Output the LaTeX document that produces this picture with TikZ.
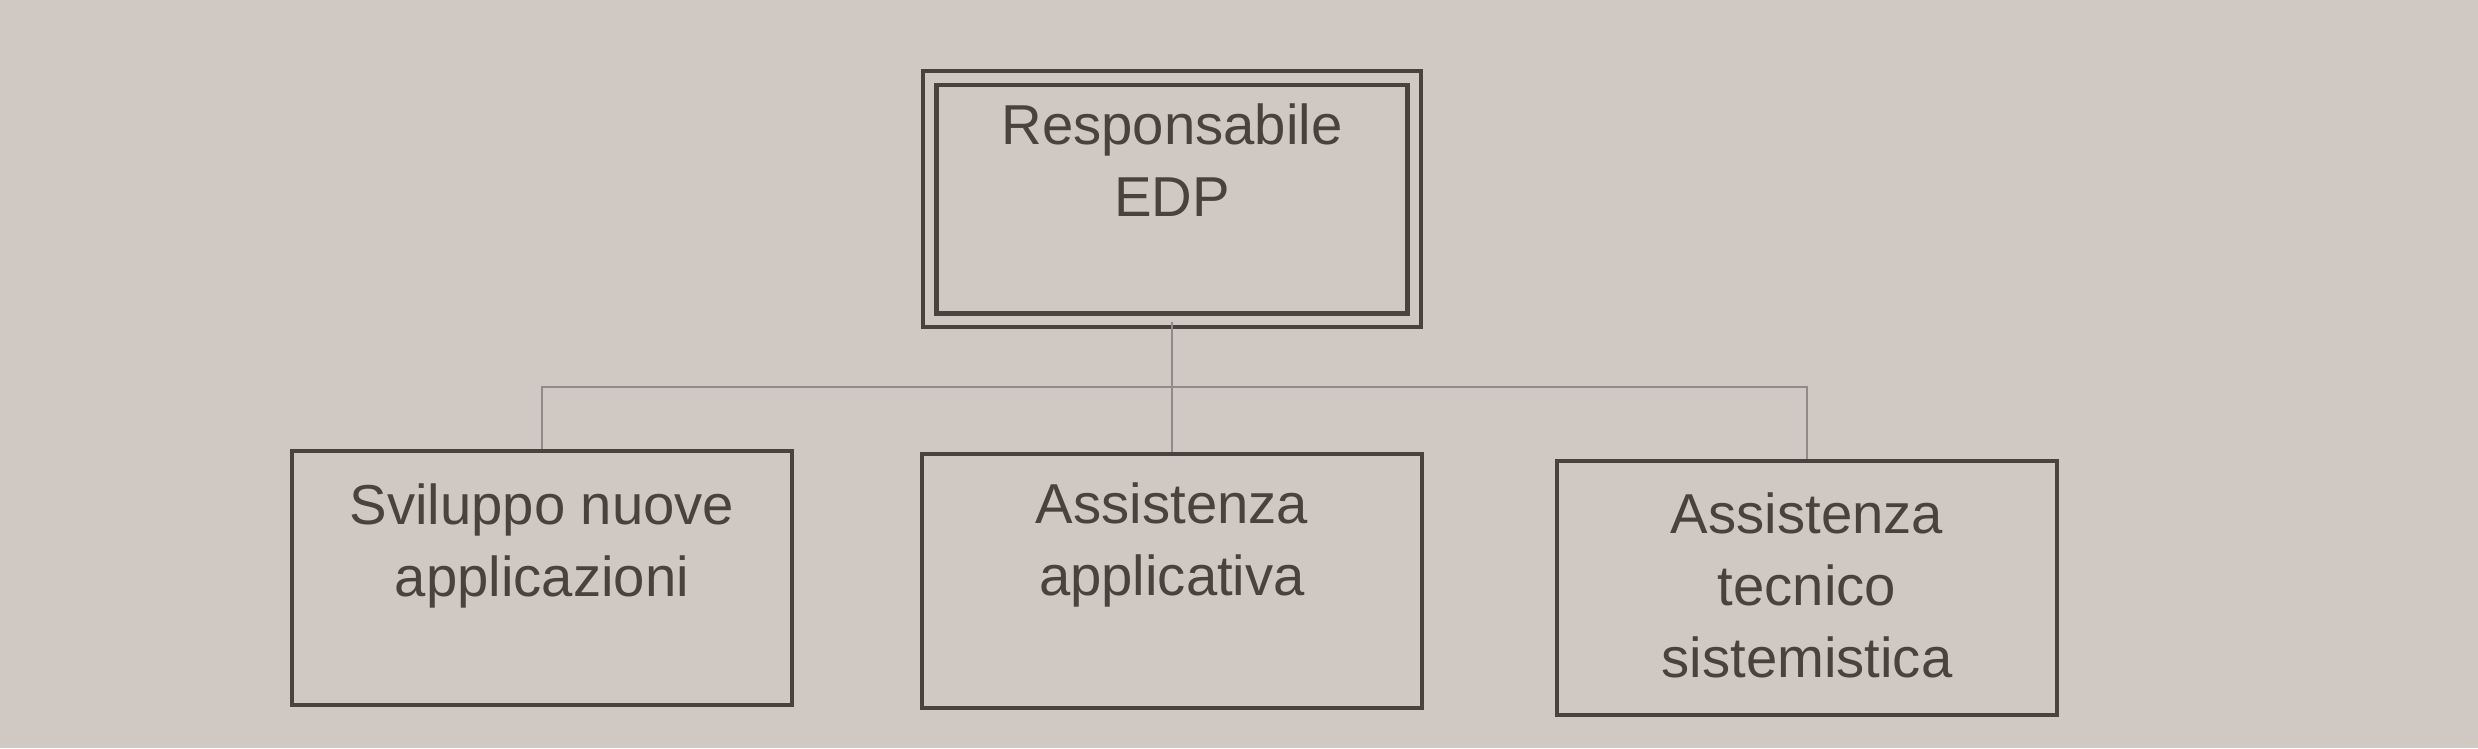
\documentclass[tikz,border=0pt]{standalone}
\usepackage{fontspec}
\setmainfont{Liberation Sans}
\definecolor{paper}{RGB}{207,200,195}
\definecolor{ink}{RGB}{74,66,61}
\definecolor{wire}{RGB}{145,139,135}

\begin{document}
\begin{tikzpicture}[x=0.01cm, y=-0.01cm,
    unit/.style={draw=ink, line width=1.3pt, minimum width=5cm, minimum height=2.54cm, inner sep=0pt},
    head/.style={unit, double=paper, double distance=2.6pt, minimum width=4.84cm, minimum height=2.42cm},
    caption/.style={anchor=north, align=center, inner sep=0pt, text=ink, font=\fontsize{16}{20.5}\selectfont},
    link/.style={draw=wire, line width=0.7pt}]
    \fill[paper] (0,0) rectangle (2478,748);
    \useasboundingbox (0,0) rectangle (2478,748);

    \node[head] (edp) at (1172,199) {};
    \node[unit] (dev) at (542,578) {};
    \node[unit] (app) at (1172,581) {};
    \node[unit] (tec) at (1807,588) {};

    \node[caption] (edp-t) at ([yshift=-0.27cm]edp.north) {Responsabile\\EDP};
    \node[caption] (dev-t) at ([yshift=-0.34cm]dev.north) {Sviluppo nuove\\applicazioni};
    \node[caption] (app-t) at ([yshift=-0.30cm]app.north) {Assistenza\\applicativa};
    \node[caption] (tec-t) at ([yshift=-0.33cm]tec.north) {Assistenza\\tecnico\\sistemistica};

    \coordinate (bus) at (0,387);
    \draw[link] (edp.south) -- (app.north);
    \draw[link] (dev.north) -- (dev.north |- bus) -- (tec.north |- bus) -- (tec.north);
\end{tikzpicture}
\end{document}
